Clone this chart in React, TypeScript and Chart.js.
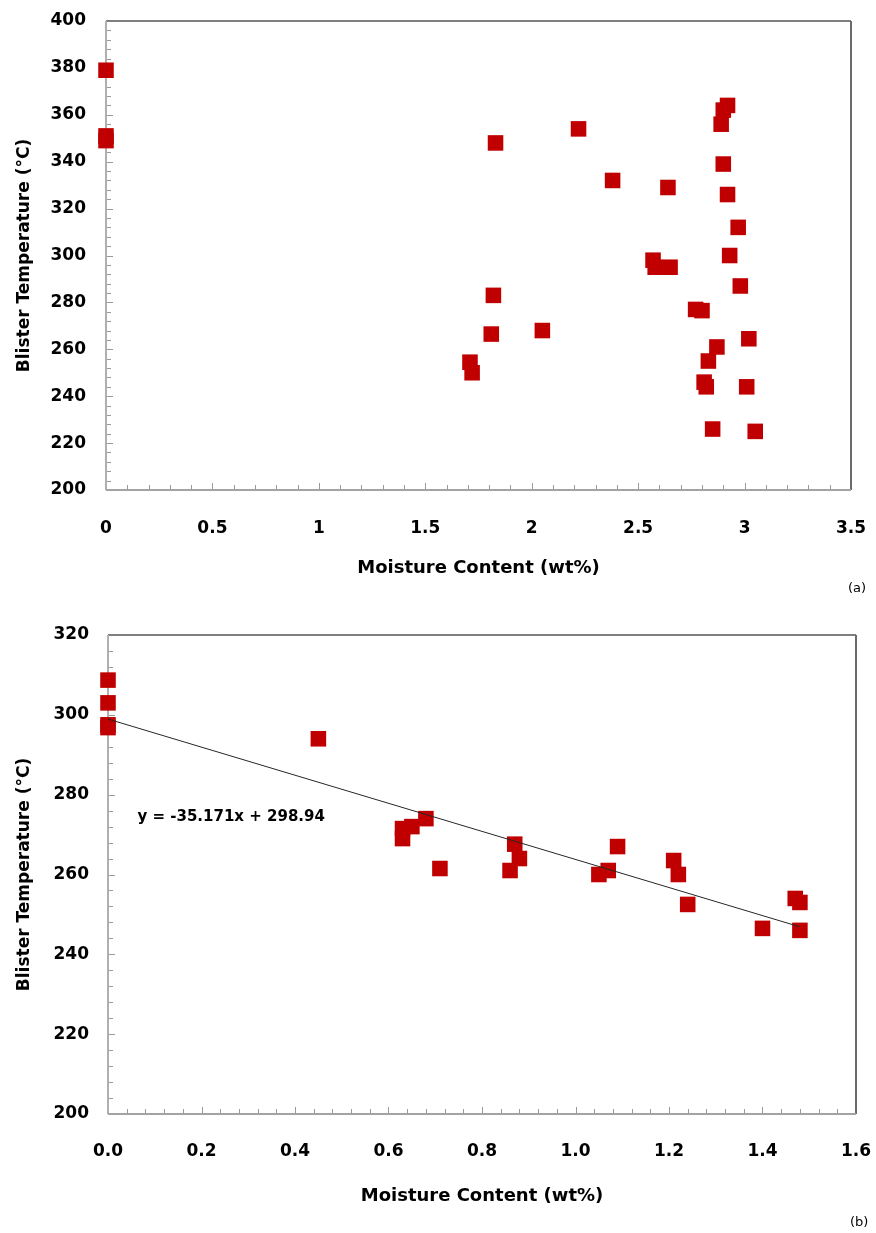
import React, { useEffect, useRef } from 'react';
import { Chart, registerables } from 'chart.js';

Chart.register(...registerables);

const FONT = "'DejaVu Sans', 'Liberation Sans', Arial, sans-serif";

// ---------- Chart (a) data ----------
const moistureA = [0, 0, 0, 1.83, 2.22, 2.38, 2.64, 2.92, 2.9, 2.89, 2.9, 2.92, 2.97, 2.93, 2.57, 2.58, 2.65, 2.98, 1.82, 2.77, 2.8, 1.81, 2.05, 3.02, 2.87, 2.83, 1.71, 1.72, 2.81, 2.82, 3.01, 2.85, 3.05];
const blisterA = [379, 351, 349, 348, 354, 332, 329, 364, 362, 356, 339, 326, 312, 300, 298, 295, 295, 287, 283, 277, 276.5, 266.5, 268, 264.5, 261, 255, 254.5, 250, 246, 244, 244, 226, 225];
const xTicksA = [0, 0.5, 1, 1.5, 2, 2.5, 3, 3.5];
const yTicksA = [200, 220, 240, 260, 280, 300, 320, 340, 360, 380, 400];

// ---------- Chart (b) data ----------
const moistureB = [0, 0, 0, 0, 0.45, 0.63, 0.63, 0.65, 0.68, 0.71, 0.86, 0.87, 0.88, 1.05, 1.07, 1.09, 1.21, 1.22, 1.24, 1.4, 1.47, 1.48, 1.48];
const blisterB = [308.7, 303, 297.5, 296.8, 294, 271.5, 269, 272, 274, 261.5, 261, 267.6, 264, 260, 261, 267, 263.5, 260, 252.5, 246.5, 254, 253, 246];
const xTicksB = [0, 0.2, 0.4, 0.6, 0.8, 1.0, 1.2, 1.4, 1.6];
const yTicksB = [200, 220, 240, 260, 280, 300, 320];

// Linear trend line of chart (b)
const trendSlope = -35.171;
const trendIntercept = 298.94;
const trendXRange = [0, 1.48];
const equationText = 'y = -35.171x + 298.94';

const xTitle = 'Moisture Content (wt%)';
const yTitle = 'Blister Temperature (°C)';
const markerColor = '#c00000';

type AxisSpec = {
  xTicks: number[];
  yTicks: number[];
  minorDiv: number;
};

function makeFramePlugin(spec: AxisSpec) {
  return {
    id: 'frameTicks',
    beforeDatasetsDraw(chart: any) {
      const { ctx, chartArea } = chart;
      const { left, right, top, bottom } = chartArea;
      const xs = chart.scales.x;
      const ys = chart.scales.y;
      ctx.save();
      ctx.strokeStyle = '#9a9a9a';
      ctx.lineWidth = 1;
      const xt = spec.xTicks;
      for (let i = 0; i < xt.length - 1; i++) {
        for (let k = 0; k < spec.minorDiv; k++) {
          const v = xt[i] + ((xt[i + 1] - xt[i]) * k) / spec.minorDiv;
          const px = Math.round(xs.getPixelForValue(v)) + 0.5;
          const len = k === 0 ? 7 : 5;
          ctx.beginPath();
          ctx.moveTo(px, bottom);
          ctx.lineTo(px, bottom - len);
          ctx.stroke();
        }
      }
      const yt = spec.yTicks;
      for (let i = 0; i < yt.length - 1; i++) {
        for (let k = 0; k < spec.minorDiv; k++) {
          const v = yt[i] + ((yt[i + 1] - yt[i]) * k) / spec.minorDiv;
          const py = Math.round(ys.getPixelForValue(v)) + 0.5;
          const len = k === 0 ? 7 : 5;
          ctx.beginPath();
          ctx.moveTo(left, py);
          ctx.lineTo(left + len, py);
          ctx.stroke();
        }
      }
      ctx.lineWidth = 1.5;
      ctx.strokeStyle = '#555555';
      ctx.beginPath();
      ctx.moveTo(left, top);
      ctx.lineTo(right, top);
      ctx.stroke();
      ctx.lineWidth = 2;
      ctx.strokeStyle = '#6a6a6a';
      ctx.beginPath();
      ctx.moveTo(right, top);
      ctx.lineTo(right, bottom);
      ctx.stroke();
      ctx.strokeStyle = '#b0b0b0';
      ctx.beginPath();
      ctx.moveTo(left, top);
      ctx.lineTo(left, bottom);
      ctx.stroke();
      ctx.strokeStyle = '#a3a3a3';
      ctx.beginPath();
      ctx.moveTo(left, bottom);
      ctx.lineTo(right, bottom);
      ctx.stroke();
      ctx.restore();
    },
  };
}

const equationPlugin = {
  id: 'equation',
  afterDatasetsDraw(chart: any) {
    const { ctx } = chart;
    const xs = chart.scales.x;
    const ys = chart.scales.y;
    ctx.save();
    ctx.font = `bold 15px ${FONT}`;
    ctx.fillStyle = '#000';
    ctx.textAlign = 'left';
    ctx.textBaseline = 'middle';
    ctx.fillText(equationText, xs.getPixelForValue(0.063), ys.getPixelForValue(274.4));
    ctx.restore();
  },
};

type Cfg = {
  xs: number[];
  ys: number[];
  xTicks: number[];
  yTicks: number[];
  xFmt: (v: number) => string;
  padTop: number;
  padRight: number;
  yAxisWidth: number;
  xAxisHeight: number;
  xLabelPad: number;
  yLabelPad: number;
  trend: boolean;
};

function buildConfig(c: Cfg): any {
  const points = c.xs.map((x, i) => ({ x, y: c.ys[i] }));
  const datasets: any[] = [
    {
      type: 'scatter',
      data: points,
      pointStyle: 'rect',
      pointRadius: 11,
      pointHoverRadius: 11,
      backgroundColor: markerColor,
      borderColor: markerColor,
      borderWidth: 0,
      clip: false,
      order: 2,
    },
  ];
  const plugins: any[] = [
    makeFramePlugin({ xTicks: c.xTicks, yTicks: c.yTicks, minorDiv: 5 }),
  ];
  if (c.trend) {
    datasets.push({
      type: 'line',
      data: trendXRange.map((x) => ({ x, y: trendSlope * x + trendIntercept })),
      borderColor: '#262626',
      borderWidth: 1,
      pointRadius: 0,
      fill: false,
      clip: false,
      order: 1,
    });
    plugins.push(equationPlugin);
  }
  const tickFont = { family: FONT, size: 17, weight: 'bold' as const };
  const titleFont = { family: FONT, size: 18, weight: 'bold' as const };
  return {
    type: 'scatter',
    data: { datasets },
    plugins,
    options: {
      responsive: false,
      animation: false,
      events: [],
      layout: { padding: { left: 0, top: c.padTop, right: c.padRight, bottom: 0 } },
      plugins: { legend: { display: false }, tooltip: { enabled: false } },
      scales: {
        x: {
          type: 'linear',
          min: c.xTicks[0],
          max: c.xTicks[c.xTicks.length - 1],
          afterBuildTicks: (s: any) => {
            s.ticks = c.xTicks.map((v) => ({ value: v }));
          },
          afterFit: (s: any) => {
            s.height = c.xAxisHeight;
            s.paddingLeft = 0;
            s.paddingRight = 0;
          },
          grid: { display: false, drawTicks: false },
          border: { display: false },
          ticks: {
            autoSkip: false,
            maxRotation: 0,
            minRotation: 0,
            padding: c.xLabelPad,
            color: '#000',
            font: tickFont,
            callback: (v: any) => c.xFmt(Number(v)),
          },
          title: {
            display: true,
            text: xTitle,
            color: '#000',
            font: titleFont,
            padding: { top: 0, bottom: 26 },
          },
        },
        y: {
          type: 'linear',
          min: c.yTicks[0],
          max: c.yTicks[c.yTicks.length - 1],
          afterBuildTicks: (s: any) => {
            s.ticks = c.yTicks.map((v) => ({ value: v }));
          },
          afterFit: (s: any) => {
            s.width = c.yAxisWidth;
            s.paddingTop = 0;
            s.paddingBottom = 0;
          },
          grid: { display: false, drawTicks: false },
          border: { display: false },
          ticks: {
            autoSkip: false,
            padding: c.yLabelPad,
            color: '#000',
            font: tickFont,
            callback: (v: any) => String(v),
          },
          title: {
            display: true,
            text: yTitle,
            color: '#000',
            font: { family: FONT, size: 17, weight: 'bold' as const },
            padding: { top: 14, bottom: 0 },
          },
        },
      },
    },
  };
}

function ChartCanvas({ cfg, width, height, top }: { cfg: Cfg; width: number; height: number; top: number }) {
  const ref = useRef<HTMLCanvasElement | null>(null);
  useEffect(() => {
    if (!ref.current) return;
    const chart = new Chart(ref.current, buildConfig(cfg));
    return () => chart.destroy();
  }, []);
  return (
    <canvas
      ref={ref}
      width={width}
      height={height}
      style={{ position: 'absolute', left: 0, top, width, height, display: 'block' }}
    />
  );
}

export default function App() {
  Chart.defaults.font.family = FONT;
  const cfgA: Cfg = {
    xs: moistureA,
    ys: blisterA,
    xTicks: xTicksA,
    yTicks: yTicksA,
    xFmt: (v) => String(v),
    padTop: 21,
    padRight: 25,
    yAxisWidth: 106,
    xAxisHeight: 115,
    xLabelPad: 28,
    yLabelPad: 20,
    trend: false,
  };
  const cfgB: Cfg = {
    xs: moistureB,
    ys: blisterB,
    xTicks: xTicksB,
    yTicks: yTicksB,
    xFmt: (v) => v.toFixed(1),
    padTop: 30,
    padRight: 20,
    yAxisWidth: 108,
    xAxisHeight: 119,
    xLabelPad: 27,
    yLabelPad: 19,
    trend: true,
  };
  const tag: React.CSSProperties = {
    position: 'absolute',
    fontFamily: FONT,
    fontSize: 13,
    color: '#000',
    lineHeight: '16px',
  };
  return (
    <div style={{ position: 'absolute', left: 0, top: 0, width: 876, height: 1233, background: '#fff', overflow: 'hidden' }}>
      <ChartCanvas cfg={cfgA} width={876} height={605} top={0} />
      <ChartCanvas cfg={cfgB} width={876} height={628} top={605} />
      <div style={{ ...tag, left: 848, top: 580 }}>(a)</div>
      <div style={{ ...tag, left: 850, top: 1214 }}>(b)</div>
    </div>
  );
}
